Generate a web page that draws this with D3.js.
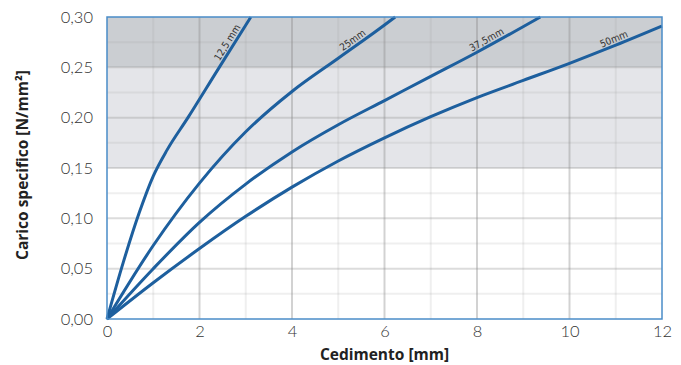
<!DOCTYPE html>
<html>
<head>
<meta charset="utf-8">
<script src="https://cdn.jsdelivr.net/npm/d3@7"></script>
<style>
body {
  margin: 0;
  background-color: white;
}
.tick text {
  font-family: Lato, "Open Sans", sans-serif;
  font-weight: 300;
  font-size: 16.5px;
  fill: #333;
}
.title {
  font-family: "Open Sans", Lato, sans-serif;
  font-weight: 700;
  font-size: 15.5px;
  fill: #222;
}
.curve-label {
  font-family: "Liberation Sans Narrow", "DejaVu Sans Condensed", sans-serif;
  font-size: 10px;
  fill: #333;
}
</style>
</head>
<body>
<script>

// settlement [mm] vs specific load [N/mm2]
const names = ["12,5 mm", "25mm", "37,5mm", "50mm"];
const x125 = [0, 0.35, 0.7, 1.0, 1.3, 1.75, 2.4, 3.11];
const y125 = [0, 0.056, 0.106, 0.142, 0.168, 0.2, 0.248, 0.30];
const x25 = [0, 1, 2, 3, 4, 5, 6, 6.23];
const y25 = [0, 0.073, 0.135, 0.186, 0.226, 0.259, 0.292, 0.30];
const x375 = [0, 1, 2, 3, 4, 5, 6, 7, 8, 9.37];
const y375 = [0, 0.05, 0.096, 0.134, 0.166, 0.193, 0.217, 0.241, 0.265, 0.30];
const x50 = [0, 1, 2, 3, 4, 5, 6, 7, 8, 9, 10, 11, 12];
const y50 = [0, 0.036, 0.07, 0.102, 0.131, 0.157, 0.18, 0.201, 0.22, 0.237, 0.254, 0.272, 0.291];

const xTicks = [0, 2, 4, 6, 8, 10, 12];
const yTicks = [0, 0.05, 0.10, 0.15, 0.20, 0.25, 0.30];
const bands = [[0.15, 0.25, "#e4e5e9"], [0.25, 0.30, "#cbced2"]];

const series = [[x125, y125], [x25, y25], [x375, y375], [x50, y50]]
  .map((s, i) => ({name: names[i], pts: s[0].map((x, j) => [x, s[1][j]])}));

const svg = d3.select("body")
            .append("svg")
            .attr("width", 681)
            .attr("height", 365);

const margin = {top: 17, right: 19, bottom: 46, left: 107};
const width = 681 - margin.left - margin.right;
const height = 365 - margin.top - margin.bottom;
const g = svg.append("g").attr("transform", `translate(${margin.left}, ${margin.top})`);

const xScale = d3.scaleLinear().domain([0, 12]).range([0, width]);
const yScale = d3.scaleLinear().domain([0, 0.30]).range([height, 0]);

// shaded bands
g.selectAll("rect.band").data(bands).enter()
 .append("rect")
 .attr("class", "band")
 .attr("x", 0)
 .attr("width", width)
 .attr("y", d => yScale(d[1]))
 .attr("height", d => yScale(d[0]) - yScale(d[1]))
 .attr("fill", d => d[2]);

// grid: minor then major
const minorX = d3.range(1, 12, 2);
const minorY = d3.range(0.025, 0.30, 0.05);
g.selectAll("line.vminor").data(minorX).enter()
 .append("line")
 .attr("x1", d => xScale(d)).attr("x2", d => xScale(d))
 .attr("y1", 0).attr("y2", height)
 .attr("stroke", "#9a9a9a").attr("stroke-opacity", 0.16).attr("stroke-width", 2);
g.selectAll("line.hminor").data(minorY).enter()
 .append("line")
 .attr("y1", d => yScale(d)).attr("y2", d => yScale(d))
 .attr("x1", 0).attr("x2", width)
 .attr("stroke", "#9a9a9a").attr("stroke-opacity", 0.16).attr("stroke-width", 2);
g.selectAll("line.vmajor").data(xTicks.slice(1, -1)).enter()
 .append("line")
 .attr("x1", d => xScale(d)).attr("x2", d => xScale(d))
 .attr("y1", 0).attr("y2", height)
 .attr("stroke", "#8a8a8a").attr("stroke-opacity", 0.38).attr("stroke-width", 2);
g.selectAll("line.hmajor").data(yTicks.slice(1, -1)).enter()
 .append("line")
 .attr("y1", d => yScale(d)).attr("y2", d => yScale(d))
 .attr("x1", 0).attr("x2", width)
 .attr("stroke", "#8a8a8a").attr("stroke-opacity", 0.3).attr("stroke-width", 2);

// curves
const line = d3.line()
  .x(d => xScale(d[0]))
  .y(d => yScale(d[1]))
  .curve(d3.curveMonotoneX);

g.selectAll("path.curve").data(series).enter()
 .append("path")
 .attr("class", "curve")
 .attr("d", d => line(d.pts))
 .attr("fill", "none")
 .attr("stroke", "#1d5f9e")
 .attr("stroke-width", 3)
 .attr("stroke-linejoin", "round");

// labels sit on the upper side of each curve near the top band
const labelAt = 0.273;
series.forEach(s => {
  const i = d3.bisector(p => p[1]).left(s.pts, labelAt);
  const a = s.pts[Math.max(i - 1, 0)], b = s.pts[Math.min(i, s.pts.length - 1)];
  const t = (labelAt - a[1]) / (b[1] - a[1]);
  const lx = xScale(a[0] + t * (b[0] - a[0]));
  const ly = yScale(labelAt);
  const ang = Math.atan2(yScale(b[1]) - yScale(a[1]), xScale(b[0]) - xScale(a[0])) * 180 / Math.PI;
  g.append("text")
   .attr("class", "curve-label")
   .attr("transform", `translate(${lx}, ${ly}) rotate(${ang}) translate(-2, -3)`)
   .attr("text-anchor", "middle")
   .text(s.name);
});

// plot frame
g.append("rect")
 .attr("width", width)
 .attr("height", height)
 .attr("fill", "none")
 .attr("stroke", "#4a8cc8")
 .attr("stroke-width", 1.5);

// axes
const fmt = d => d.toFixed(2).replace(".", ",");
const xAxis = d3.axisBottom(xScale).tickValues(xTicks).tickSize(0).tickPadding(6);
const yAxis = d3.axisLeft(yScale).tickValues(yTicks).tickSize(0).tickPadding(14).tickFormat(fmt);

g.append("g")
 .attr("transform", `translate(0, ${height})`)
 .call(xAxis)
 .call(a => a.select(".domain").remove());

g.append("g")
 .call(yAxis)
 .call(a => a.select(".domain").remove());

svg.append("text")
   .attr("class", "title")
   .attr("x", margin.left + width / 2)
   .attr("y", 360)
   .attr("text-anchor", "middle")
   .text("Cedimento [mm]");

svg.append("text")
   .attr("class", "title")
   .attr("transform", `translate(28, ${margin.top + height / 2 - 3}) rotate(-90)`)
   .attr("text-anchor", "middle")
   .text("Carico specifico [N/mm²]");

</script>
</body>
</html>
